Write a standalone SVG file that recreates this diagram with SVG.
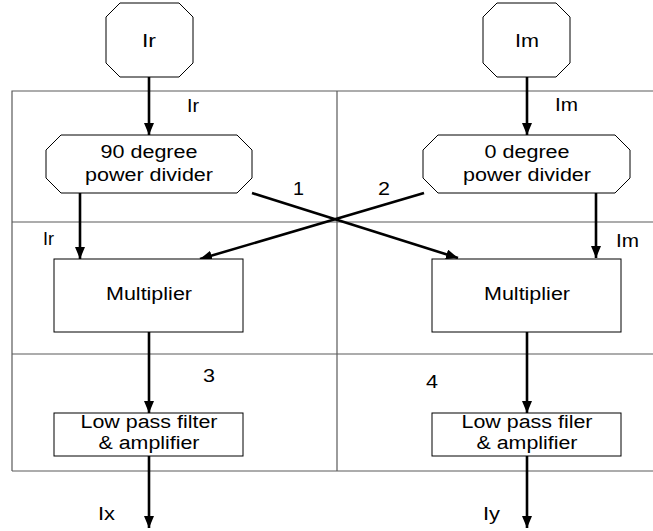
<svg xmlns="http://www.w3.org/2000/svg" width="653" height="531" viewBox="0 0 653 531">
  <style>
    .frame { fill: none; stroke: #5a5a5a; stroke-width: 1.2; }
    .box { fill: #fff; stroke: #000; stroke-width: 1; }
    .wire { fill: none; stroke: #000; stroke-width: 2.6; }
    text { font-family: "Liberation Sans", Arial, sans-serif; font-size: 18px; fill: #000; }
    .c { text-anchor: middle; }
  </style>
  <defs>
    <marker id="arrow" viewBox="0 0 12 10" refX="12" refY="5" markerWidth="12" markerHeight="10" markerUnits="userSpaceOnUse" orient="auto">
      <path d="M0,0 L12,5 L0,10 Z" fill="#000"/>
    </marker>
  </defs>

  <rect width="653" height="531" fill="#fff"/>

  <!-- grid frame -->
  <g id="frame">
    <path class="frame" d="M12,471 V91 H653 M12,222 H653 M12,354 H653 M12,471 H653 M337,91 V471"/>
  </g>

  <!-- connectors -->
  <g id="connectors">
    <line class="wire" x1="149" y1="77" x2="149" y2="135" marker-end="url(#arrow)"/>
    <line class="wire" x1="527" y1="77" x2="527" y2="135" marker-end="url(#arrow)"/>
    <line class="wire" x1="80" y1="193" x2="80" y2="259" marker-end="url(#arrow)"/>
    <line class="wire" x1="596" y1="193" x2="596" y2="258" marker-end="url(#arrow)"/>
    <line class="wire" x1="252" y1="193" x2="458" y2="258" marker-end="url(#arrow)"/>
    <line class="wire" x1="424" y1="193" x2="200" y2="259" marker-end="url(#arrow)"/>
    <line class="wire" x1="149" y1="332" x2="149" y2="413" marker-end="url(#arrow)"/>
    <line class="wire" x1="527" y1="332" x2="527" y2="413" marker-end="url(#arrow)"/>
    <line class="wire" x1="149" y1="456" x2="149" y2="528" marker-end="url(#arrow)"/>
    <line class="wire" x1="527" y1="456" x2="527" y2="528" marker-end="url(#arrow)"/>
  </g>

  <!-- inputs -->
  <g id="input-ir">
    <polygon class="box" points="120,3 179,3 193,17 193,63 179,77 120,77 106,63 106,17"/>
    <text class="c" x="149" y="47" textLength="14" lengthAdjust="spacingAndGlyphs">Ir</text>
  </g>
  <g id="input-im">
    <polygon class="box" points="497,3 556,3 570,17 570,63 556,77 497,77 483,63 483,17"/>
    <text class="c" x="527" y="47" textLength="24" lengthAdjust="spacingAndGlyphs">Im</text>
  </g>

  <!-- power dividers -->
  <g id="divider-90">
    <polygon class="box" points="61,135 237,135 252,150 252,178 237,193 61,193 46,178 46,150"/>
    <text class="c" x="149" y="158" textLength="97" lengthAdjust="spacingAndGlyphs">90 degree</text>
    <text class="c" x="149" y="181" textLength="128" lengthAdjust="spacingAndGlyphs">power divider</text>
  </g>
  <g id="divider-0">
    <polygon class="box" points="438,135 615,135 630,150 630,178 615,193 438,193 423,178 423,150"/>
    <text class="c" x="527" y="158" textLength="85" lengthAdjust="spacingAndGlyphs">0 degree</text>
    <text class="c" x="527" y="181" textLength="128" lengthAdjust="spacingAndGlyphs">power divider</text>
  </g>

  <!-- multipliers -->
  <g id="multiplier-left">
    <rect class="box" x="54" y="259" width="189" height="73"/>
    <text class="c" x="149" y="300" textLength="86" lengthAdjust="spacingAndGlyphs">Multiplier</text>
  </g>
  <g id="multiplier-right">
    <rect class="box" x="432" y="259" width="189" height="73"/>
    <text class="c" x="527" y="300" textLength="86" lengthAdjust="spacingAndGlyphs">Multiplier</text>
  </g>

  <!-- filters -->
  <g id="filter-left">
    <rect class="box" x="54" y="413" width="189" height="43"/>
    <text class="c" x="149" y="428" textLength="137" lengthAdjust="spacingAndGlyphs">Low pass filter</text>
    <text class="c" x="149" y="449" textLength="101" lengthAdjust="spacingAndGlyphs">&amp; amplifier</text>
  </g>
  <g id="filter-right">
    <rect class="box" x="432" y="413" width="189" height="43"/>
    <text class="c" x="527" y="428" textLength="131" lengthAdjust="spacingAndGlyphs">Low pass filer</text>
    <text class="c" x="527" y="449" textLength="101" lengthAdjust="spacingAndGlyphs">&amp; amplifier</text>
  </g>

  <!-- signal labels -->
  <g id="labels">
    <text x="187" y="112" textLength="12" lengthAdjust="spacingAndGlyphs">Ir</text>
    <text x="555" y="111" textLength="23" lengthAdjust="spacingAndGlyphs">Im</text>
    <text x="43" y="245" textLength="11" lengthAdjust="spacingAndGlyphs">Ir</text>
    <text x="616" y="247" textLength="23" lengthAdjust="spacingAndGlyphs">Im</text>
    <text x="293" y="195" textLength="11" lengthAdjust="spacingAndGlyphs">1</text>
    <text x="378" y="195" textLength="12" lengthAdjust="spacingAndGlyphs">2</text>
    <text x="203" y="382" textLength="12" lengthAdjust="spacingAndGlyphs">3</text>
    <text x="426" y="388" textLength="12" lengthAdjust="spacingAndGlyphs">4</text>
    <text x="98" y="520" textLength="17" lengthAdjust="spacingAndGlyphs">Ix</text>
    <text x="483" y="520" textLength="17" lengthAdjust="spacingAndGlyphs">Iy</text>
  </g>
</svg>
